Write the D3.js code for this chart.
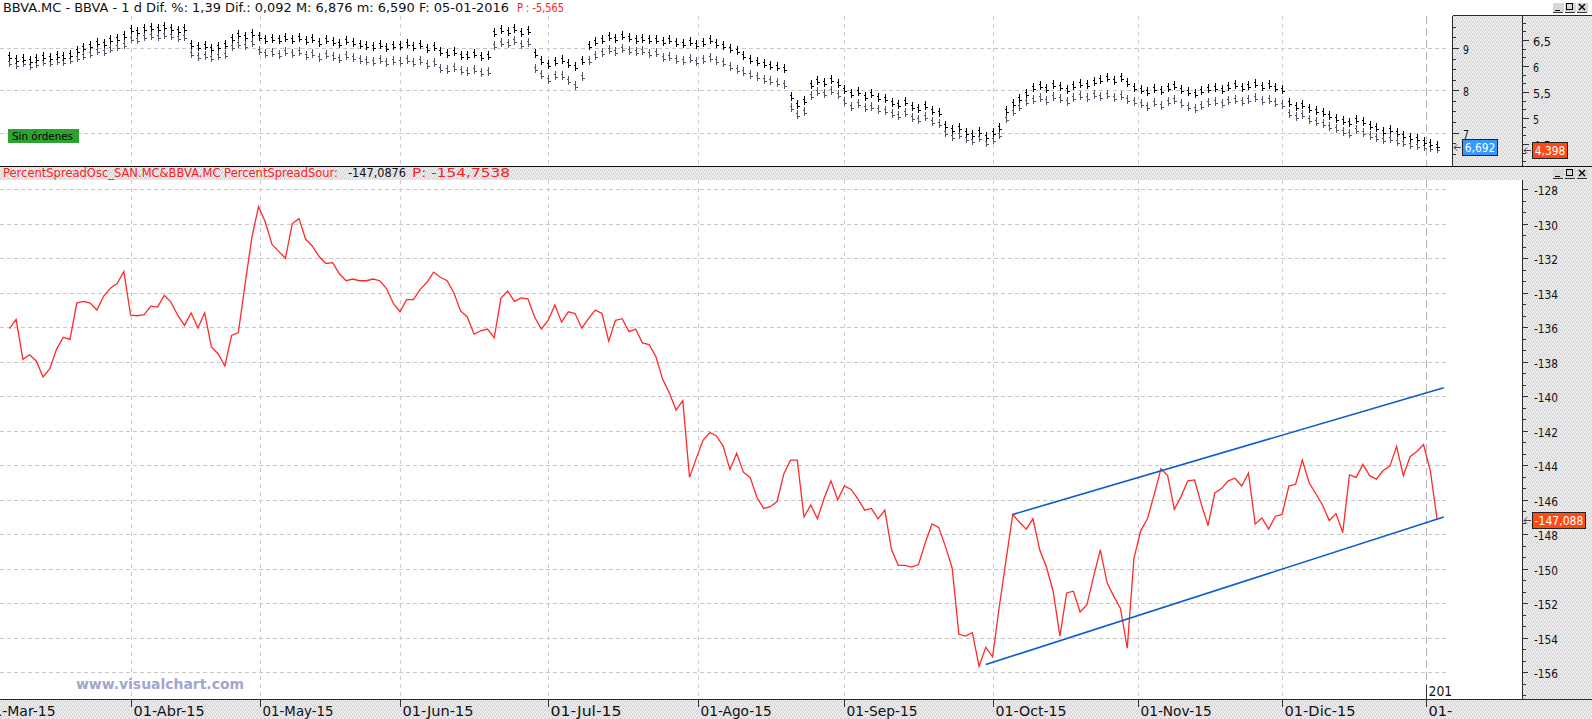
<!DOCTYPE html>
<html><head><meta charset="utf-8">
<script src="https://cdn.jsdelivr.net/npm/d3@7"></script>
<style>html,body{margin:0;padding:0;background:#fff;overflow:hidden}svg{display:block}</style>
</head><body><svg id="c" width="1592" height="719"></svg>
<script>
// ---------------- DATA ----------------
const startIndex = -18; // trading-day index of first bar (01-Abr-15 = 0)
const spreadValues = [
-136.08,-135.54,-137.86,-137.59,-137.95,-138.88,-138.4,-137.28,-136.58,-136.7,-134.6,-134.5,-134.6,-135.0,-134.19,-133.73,-133.47,-132.76,
-135.3,-135.33,-135.27,-134.77,-134.83,-134.15,-134.54,-135.3,-135.89,-135.17,-136.04,-135.17,-137.14,-137.53,-138.24,-136.47,-136.3,
-133.5,-130.8,-129.0,-129.9,-131.2,-131.6,-132.0,-130.0,-129.7,-130.9,-131.3,-131.9,-132.3,-132.25,-132.9,-133.3,-133.2,-133.3,-133.3,-133.2,-133.3,-133.75,-134.6,-135.1,-134.4,-134.4,-133.8,-133.4,-132.8,-133.1,-133.3,-134.0,-135.05,-135.4,-136.4,-136.2,-136.1,
-136.6,-134.3,-133.9,-134.5,-134.3,-134.35,-135.4,-136.1,-135.6,-134.7,-135.7,-135.1,-135.2,-136.05,-135.5,-135.0,-135.2,-136.8,-135.6,-135.5,-136.25,-136.1,-136.9,-137.0,-137.7,-139.0,-139.8,-140.8,-140.25,-144.7,-143.6,-142.55,-142.1,-142.3,-142.9,-144.25,
-143.3,-144.4,-144.7,-145.85,-146.5,-146.4,-146.1,-144.5,-143.7,-143.7,-147.0,-146.3,-147.1,-145.9,-144.9,-146.0,-145.2,-145.4,-145.95,-146.6,-146.5,-147.1,-146.6,-148.9,-149.8,-149.8,-149.9,-149.75,-148.5,-147.4,-147.6,-148.7,-149.95,-153.8,-153.9,
-153.7,-155.65,-154.55,-155.1,-152.2,-149.5,-146.85,-147.3,-147.7,-147.1,-148.9,-149.9,-151.3,-153.9,-151.4,-151.3,-152.5,-152.1,-150.45,-148.9,-150.8,-151.6,-152.3,-154.6,-149.4,-147.8,-147.1,-145.7,-144.2,-144.6,-146.55,-145.8,-144.9,-144.85,-146.25,-147.5,
-145.6,-145.35,-144.9,-144.75,-145.2,-144.45,-147.4,-147.05,-147.7,-146.95,-146.85,-145.2,-145.1,-143.7,-145.0,-145.65,-146.3,-147.2,-146.8,-147.9,-144.55,-144.7,-143.95,-144.6,-144.8,-144.3,-144.05,-142.9,-144.6,-143.5,-143.2,-142.8,-144.3,-147.088
];
const bbvaClose = [
8.78,8.72,8.75,8.70,8.74,8.79,8.76,8.81,8.78,8.84,
8.92,9.0,9.05,9.12,9.1,9.18,9.22,9.28,
9.42,9.38,9.45,9.48,9.44,9.5,9.46,9.41,9.44,
9.08,9.02,9.05,8.98,9.03,9.06,
9.22,9.3,9.26,9.32,
9.25,9.2,9.22,9.18,9.24,
9.2,9.24,9.16,9.21,9.12,9.18,9.14,9.1,9.16,9.12,9.08,
9.05,9.02,9.07,9.0,9.04,
9.04,9.1,9.02,9.06,8.98,9.03,8.9,
8.85,8.9,8.82,8.8,8.86,8.78,8.82,
9.35,9.42,9.38,9.45,9.36,9.4,
8.85,8.7,8.6,8.68,8.72,8.62,8.55,8.7,
9.05,9.15,9.2,9.25,9.22,9.28,9.24,9.2,9.22,9.18,9.2,
9.15,9.18,9.12,9.1,9.14,9.08,9.12,9.18,9.1,9.05,8.98,8.92,
8.8,8.72,8.68,8.62,8.58,8.55,8.5,
7.85,7.65,7.75,
8.12,8.22,8.18,8.25,8.15,
8.0,7.9,7.95,7.85,7.9,7.82,7.8,
7.7,7.65,7.72,7.6,7.55,7.62,7.5,7.45,
7.15,7.05,7.1,7.0,6.95,7.02,6.9,6.98,7.1,
7.5,7.68,7.8,7.92,
8.05,8.1,8.02,8.12,8.08,8.0,8.1,8.15,8.12,8.2,
8.25,8.3,8.22,8.28,8.18,
8.05,8.0,7.95,8.02,7.98,8.05,8.1,8.0,7.95,7.9,7.98,8.02,8.06,8.0,8.08,8.12,8.05,8.1,8.15,8.08,8.12,8.05,8.0,
7.7,7.6,7.65,7.55,7.5,7.45,
7.38,7.32,7.28,7.22,7.3,7.24,7.16,7.1,
7.02,7.06,6.98,6.92,6.88,6.85,6.78,6.72,6.692
];
const sanClose = [
6.06,6.02,6.05,6.0,6.03,6.08,6.05,6.1,6.07,6.12,
6.15,6.2,6.24,6.28,6.27,6.33,6.36,6.4,
6.52,6.5,6.56,6.58,6.55,6.6,6.57,6.53,6.55,
6.24,6.18,6.2,6.15,6.19,6.22,
6.36,6.42,6.39,6.44,
6.28,6.24,6.25,6.22,6.27,
6.23,6.26,6.2,6.24,6.16,6.21,6.18,6.14,6.19,6.16,6.12,
6.1,6.08,6.12,6.06,6.09,
6.08,6.12,6.05,6.09,6.02,6.06,5.95,
5.92,5.96,5.9,5.88,5.93,5.86,5.89,
6.38,6.45,6.42,6.48,6.4,6.44,
5.95,5.82,5.74,5.8,5.8,5.72,5.62,5.78,
6.1,6.2,6.25,6.3,6.27,6.32,6.29,6.26,6.28,6.24,6.25,
6.15,6.18,6.12,6.1,6.14,6.08,6.12,6.16,6.1,6.05,5.98,5.93,
5.88,5.82,5.78,5.74,5.71,5.68,5.64,
5.2,5.05,5.12,
5.42,5.5,5.46,5.52,5.44,
5.3,5.22,5.26,5.19,5.22,5.16,5.14,
5.08,5.04,5.1,5.0,4.96,5.02,4.92,4.88,
4.72,4.64,4.68,4.6,4.56,4.62,4.52,4.58,4.68,
4.98,5.12,5.22,5.3,
5.35,5.38,5.32,5.4,5.36,5.3,5.38,5.42,5.39,5.45,
5.4,5.44,5.38,5.42,5.34,
5.3,5.26,5.22,5.28,5.24,5.3,5.34,5.26,5.22,5.18,5.24,5.28,5.31,5.26,5.32,5.35,5.3,5.34,5.38,5.32,5.35,5.29,5.25,
5.08,5.02,5.05,4.97,4.93,4.89,
4.82,4.78,4.74,4.7,4.77,4.72,4.66,4.62,
4.57,4.6,4.54,4.51,4.49,4.47,4.44,4.42,4.398
];
const monthLabels = ["01-Mar-15","01-Abr-15","01-May-15","01-Jun-15","01-Jul-15","01-Ago-15","01-Sep-15","01-Oct-15","01-Nov-15","01-Dic-15","01-"];
const monthIndex  = [-22, 0, 19.2, 40, 62, 84.3, 106, 128, 149.6, 171, 192.3];
const yearLabel = "201";
const spreadTicks = [-128,-130,-132,-134,-136,-138,-140,-142,-144,-146,-148,-150,-152,-154,-156];
const bbvaTicks = [9,8,7];
const sanTicks = [6.5,6,5.5,5,4.5];
const channelLower = [[127,-155.55],[195,-147.0]];
const channelUpper = [[131,-146.85],[195,-139.5]];
const headerParts = ["BBVA.MC - BBVA -  1 d Dif. %: 1,39 Dif.: 0,092 M: 6,876 m: 6,590 F: 05-01-2016", "P : -5,565"];
const titleParts = ["PercentSpreadOsc_SAN.MC&BBVA.MC PercentSpreadSour:", "-147,0876", "P: -154,7538"];
const lastBBVA = "6,692", lastSAN = "4,398", lastSpread = "-147,088";

// ---------------- LAYOUT ----------------
const W = 1592, H = 719;
const L = {axL:1452.5, axR:1522.5, topTop:15.5, sep:166, plotTop:180, axisY:699.5, gridEnd:1448};
const FONT = "'DejaVu Sans', 'Liberation Sans', sans-serif";
const svg = d3.select("#c");
const defs = svg.append("defs");
const pat = defs.append("pattern").attr("id","speck").attr("width",4).attr("height",4).attr("patternUnits","userSpaceOnUse");
pat.append("rect").attr("width",4).attr("height",4).attr("fill","#e3e3e3");
[[0,0,"#f7f7f7"],[2,1,"#f4f4f4"],[1,3,"#f7f7f7"],[3,2,"#f2f2f2"],[1,1,"#cdcdd3"],[3,0,"#d4d4d4"],[0,2,"#d0d0d6"],[2,3,"#d6d6d6"]]
  .forEach(([px,py,c])=>pat.append("rect").attr("x",px).attr("y",py).attr("width",1).attr("height",1).attr("fill",c));
defs.append("clipPath").attr("id","clipTop").append("rect").attr("x",0).attr("y",L.topTop).attr("width",L.axL).attr("height",L.sep-L.topTop);
defs.append("clipPath").attr("id","clipBot").append("rect").attr("x",0).attr("y",L.plotTop).attr("width",L.axR).attr("height",L.axisY-L.plotTop);

svg.append("rect").attr("width",W).attr("height",H).attr("fill","#fff");

// scales
const x = d3.scaleLinear().domain([0,194]).range([130.6,1437]);
const yS = d3.scaleLinear().domain([-128,-156]).range([189.3,672.3]);
const yB = d3.scaleLinear().domain([9,7]).range([48,132.5]);
const yN = d3.scaleLinear().domain([6.5,4.5]).range([40,144]);

// panels backgrounds
svg.append("rect").attr("x",L.axL).attr("y",L.topTop).attr("width",W-L.axL).attr("height",L.sep-L.topTop).attr("fill","url(#speck)");
svg.append("rect").attr("x",0).attr("y",L.sep).attr("width",W).attr("height",L.plotTop-L.sep).attr("fill","url(#speck)");
svg.append("rect").attr("x",L.axR).attr("y",L.plotTop).attr("width",W-L.axR).attr("height",L.axisY-L.plotTop).attr("fill","url(#speck)");
svg.append("rect").attr("x",0).attr("y",L.axisY).attr("width",W).attr("height",H-L.axisY).attr("fill","url(#speck)");

// gridlines
const grid = svg.append("g").attr("shape-rendering","crispEdges");
bbvaTicks.forEach(v=>grid.append("line").attr("x1",0).attr("x2",L.gridEnd).attr("y1",Math.round(yB(v))+0.5).attr("y2",Math.round(yB(v))+0.5)
  .attr("stroke","#c8c8c8").attr("stroke-dasharray","4,3"));
spreadTicks.forEach(v=>grid.append("line").attr("x1",0).attr("x2",L.gridEnd).attr("y1",Math.round(yS(v))+0.5).attr("y2",Math.round(yS(v))+0.5)
  .attr("stroke","#c8c8c8").attr("stroke-dasharray","4,3"));
monthIndex.forEach((m,k)=>{
  const xx = Math.round(x(m))+0.5;
  const last = k===monthIndex.length-1;
  const st = last ? "#b4b4b4" : "#d4c8d4";
  const da = last ? "8,4" : "4,4";
  grid.append("line").attr("x1",xx).attr("x2",xx).attr("y1",L.topTop).attr("y2",L.sep).attr("stroke",st).attr("stroke-dasharray",da);
  grid.append("line").attr("x1",xx).attr("x2",xx).attr("y1",L.plotTop).attr("y2",L.axisY).attr("stroke",st).attr("stroke-dasharray",da);
});

// top panel bars
function barPath(arr, ys){
  let p = "";
  arr.forEach((c,k)=>{
    const xi = Math.round(x(startIndex+k))+0.5, yc = Math.round(ys(c));
    p += `M${xi},${yc-5}V${yc+4}M${xi-2},${yc-2}H${xi}M${xi},${yc+1}H${xi+2}`;
  });
  return p;
}
const topG = svg.append("g").attr("clip-path","url(#clipTop)").attr("shape-rendering","crispEdges");
topG.append("path").attr("d",barPath(sanClose,yN)).attr("fill","none").attr("stroke","#55556a").attr("stroke-width",1);
topG.append("path").attr("d",barPath(bbvaClose,yB)).attr("fill","none").attr("stroke","#000").attr("stroke-width",1);

// Sin órdenes
svg.append("rect").attr("x",8).attr("y",129).attr("width",71).attr("height",14).attr("fill","#2fa32f");
svg.append("text").attr("x",12).attr("y",140).attr("font-family",FONT).attr("font-size",11).attr("fill","#000")
  .attr("textLength",61).attr("lengthAdjust","spacingAndGlyphs").text("Sin órdenes");

// bottom panel lines
const botG = svg.append("g").attr("clip-path","url(#clipBot)");
const line = d3.line().x((d,k)=>x(startIndex+k)).y(d=>yS(d));
botG.append("path").datum(spreadValues).attr("d",line).attr("fill","none").attr("stroke","#ff2a2a").attr("stroke-width",1.3);
const cl = d3.line().x(d=>x(d[0])).y(d=>yS(d[1]));
[channelLower, channelUpper].forEach(c=>botG.append("path").datum(c).attr("d",cl).attr("fill","none").attr("stroke","#0a5ccc").attr("stroke-width",1.6));

// watermark
svg.append("text").attr("x",76).attr("y",689).attr("font-family",FONT).attr("font-weight","bold").attr("font-size",14)
  .attr("fill","#a3a6cc").attr("textLength",168).attr("lengthAdjust","spacingAndGlyphs").text("www.visualchart.com");

// frame lines
const fr = svg.append("g").attr("stroke","#2a2a2a").attr("shape-rendering","crispEdges");
fr.append("line").attr("x1",L.axL).attr("x2",W).attr("y1",L.topTop).attr("y2",L.topTop);
fr.append("line").attr("x1",L.axL).attr("x2",L.axL).attr("y1",L.topTop).attr("y2",L.sep);
fr.append("line").attr("x1",L.axR).attr("x2",L.axR).attr("y1",L.topTop).attr("y2",L.sep);
fr.append("line").attr("x1",0).attr("x2",W).attr("y1",L.sep+0.5).attr("y2",L.sep+0.5).attr("stroke","#111");
fr.append("line").attr("x1",L.axR).attr("x2",L.axR).attr("y1",L.plotTop).attr("y2",L.axisY);
fr.append("line").attr("x1",0).attr("x2",W).attr("y1",L.axisY).attr("y2",L.axisY);

// axis helpers
function ticks(g, x0, scale, majors, minors, majLen, minLen, fmt, labelX){
  minors.forEach(v=>{ const yy=Math.round(scale(v))+0.5;
    g.append("line").attr("x1",x0).attr("x2",x0+minLen).attr("y1",yy).attr("y2",yy).attr("stroke","#333").attr("shape-rendering","crispEdges");});
  majors.forEach(v=>{ const yy=Math.round(scale(v))+0.5;
    g.append("line").attr("x1",x0).attr("x2",x0+majLen).attr("y1",yy).attr("y2",yy).attr("stroke","#333").attr("shape-rendering","crispEdges");
    const s = fmt(v);
    g.append("text").attr("x",labelX).attr("y",yy+5).attr("font-family",FONT).attr("font-size",13).attr("fill","#111")
      .attr("textLength",s.length*6.0).attr("lengthAdjust","spacingAndGlyphs").text(s);
  });
}
const fmtComma = v => String(v).replace(".", ",");
const axG = svg.append("g");
const bMin = d3.range(0,14).map(k=>9.75-k*0.25).filter(v=>yB(v)>L.topTop+2 && yB(v)<L.sep-1);
ticks(axG, L.axL, yB, bbvaTicks, bMin, 6, 3, fmtComma, 1463);
const nMin = d3.range(0,18).map(k=>7-k/6).filter(v=>yN(v)>L.topTop+2 && yN(v)<L.sep-1);
ticks(axG, L.axR, yN, sanTicks, nMin, 6, 3, fmtComma, 1533);
const sMin = d3.range(0,45).map(k=>-128-k*2/3).filter(v=>yS(v)>L.plotTop && yS(v)<L.axisY-2);
ticks(axG, L.axR, yS, spreadTicks, sMin, 5, 3, v=>String(v), 1534);

// x axis labels
monthIndex.forEach((m,k)=>{
  const xx = Math.round(x(m))+0.5;
  const last = k===monthIndex.length-1;
  axG.append("line").attr("x1",xx).attr("x2",xx).attr("y1", last ? 685 : L.axisY).attr("y2",707).attr("stroke","#333").attr("shape-rendering","crispEdges");
  const s = monthLabels[k];
  axG.append("text").attr("x",xx+2).attr("y",716).attr("font-family",FONT).attr("font-size",13.5).attr("fill","#111")
    .attr("textLength",s.length*7.9).attr("lengthAdjust","spacingAndGlyphs").text(s);
  if(last) axG.append("text").attr("x",xx+2).attr("y",696).attr("font-family",FONT).attr("font-size",13.5).attr("fill","#111")
    .attr("textLength",yearLabel.length*7.9).attr("lengthAdjust","spacingAndGlyphs").text(yearLabel);
});

// value tags
function tag(xArrow, yv, w, fill, s){
  const yy = Math.round(yv);
  axG.append("path").attr("d",`M${xArrow+7},${yy+0.5}H${xArrow}M${xArrow+3},${yy-2.5}L${xArrow},${yy+0.5}L${xArrow+3},${yy+3.5}`)
    .attr("stroke","#444").attr("fill","none");
  axG.append("rect").attr("x",xArrow+8.5).attr("y",yy-7.5).attr("width",w).attr("height",16).attr("fill",fill).attr("stroke","#222");
  axG.append("text").attr("x",xArrow+8.5+w/2).attr("y",yy+5).attr("text-anchor","middle").attr("font-family",FONT).attr("font-size",12)
    .attr("fill","#fff").attr("textLength",s.length*6.1).attr("lengthAdjust","spacingAndGlyphs").text(s);
}
tag(1454, yB(bbvaClose[bbvaClose.length-1])+1, 35, "#3399ff", lastBBVA);
tag(1524, yN(sanClose[sanClose.length-1])+0.7, 35, "#ff4a14", lastSAN);
tag(1524, yS(spreadValues[spreadValues.length-1])+1.5, 53, "#ff4a14", lastSpread);

// header and title texts
function seg(xp, yp, s, w, col){
  svg.append("text").attr("x",xp).attr("y",yp).attr("font-family",FONT).attr("font-size",12).attr("fill",col)
    .attr("textLength",w).attr("lengthAdjust","spacingAndGlyphs").text(s);
}
seg(3, 11.5, headerParts[0], 506, "#111");
seg(517, 11.5, headerParts[1], 47, "#ff1a1a");
seg(3, 177, titleParts[0], 335, "#ff2020");
seg(348, 177, titleParts[1], 58, "#111");
seg(412, 177, titleParts[2], 98, "#ff2020");

// window buttons
function buttons(yTop){
  const g = svg.append("g").attr("shape-rendering","crispEdges");
  [1552,1564,1576].forEach((bx,k)=>{
    g.append("rect").attr("x",bx+0.5).attr("y",yTop+0.5).attr("width",11).attr("height",9).attr("fill","#d8d8d8").attr("stroke","none");
    if(k===0) g.append("line").attr("x1",bx+3).attr("x2",bx+8).attr("y1",yTop+8.5).attr("y2",yTop+8.5).attr("stroke","#000").attr("stroke-width",1.5);
    if(k===1) g.append("rect").attr("x",bx+2.5).attr("y",yTop+1.5).attr("width",6).attr("height",6).attr("fill","none").attr("stroke","#000");
    if(k===2) g.append("path").attr("d",`M${bx+3},${yTop+2}L${bx+9},${yTop+8}M${bx+9},${yTop+2}L${bx+3},${yTop+8}`).attr("stroke","#000").attr("stroke-width",1.4).attr("shape-rendering","auto");
    g.append("line").attr("x1",bx+1).attr("x2",bx+11).attr("y1",yTop+10.5).attr("y2",yTop+10.5).attr("stroke","#333");
  });
}
buttons(2);
buttons(168);
</script></body></html>
